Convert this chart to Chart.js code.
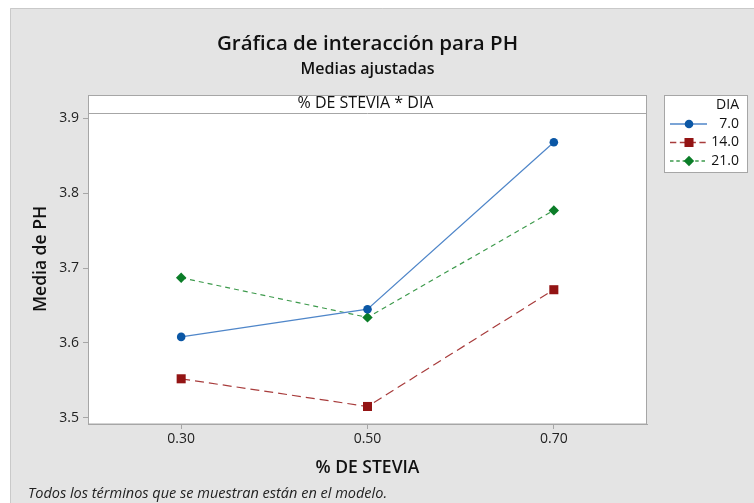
<!DOCTYPE html>
<html>
<head>
<meta charset="utf-8">
<script src="https://cdn.jsdelivr.net/npm/chart.js@4.4.1/dist/chart.umd.min.js"></script>
<style>
  html, body { margin: 0; padding: 0; background: #fff; }
  #wrap { width: 754px; height: 503px; }
</style>
</head>
<body>
<div id="wrap"><canvas id="c" width="754" height="503"></canvas></div>
<script>
// ─── Data ───
const stevia = [0.30, 0.50, 0.70];
const dias = ['7.0', '14.0', '21.0'];
const ph7 = [3.608, 3.645, 3.868];
const ph14 = [3.552, 3.515, 3.671];
const ph21 = [3.687, 3.634, 3.777];
const xTicks = [0.30, 0.50, 0.70];
const yTicks = [3.5, 3.6, 3.7, 3.8, 3.9];

const FONT = '"Open Sans", "Noto Sans", sans-serif';
const BG = '#e4e4e4';
const FRAME = '#a6a6a6';

const series = [
  { label: dias[0], data: ph7, line: '#4f86c9', mark: '#0b57a5', dash: [], style: 'circle', r: 4.3 },
  { label: dias[1], data: ph14, line: '#a83c3c', mark: '#931414', dash: [9, 5], style: 'rect', r: 6.4 },
  { label: dias[2], data: ph21, line: '#3d9a4c', mark: '#0b7d28', dash: [5, 4], style: 'rectRot', r: 5.2 },
];

function drawMark(ctx, s, x, y) {
  ctx.save();
  ctx.fillStyle = s.mark;
  ctx.beginPath();
  if (s.style === 'circle') ctx.arc(x, y, s.r, 0, Math.PI * 2);
  else if (s.style === 'rect') { const h = s.r * Math.SQRT1_2; ctx.rect(x - h, y - h, 2 * h, 2 * h); }
  else { ctx.moveTo(x, y - s.r); ctx.lineTo(x + s.r, y); ctx.lineTo(x, y + s.r); ctx.lineTo(x - s.r, y); ctx.closePath(); }
  ctx.fill();
  ctx.restore();
}

// background, frame, header strip, titles, legend, footnote
const decor = {
  id: 'decor',
  beforeDraw(chart) {
    const ctx = chart.ctx, a = chart.chartArea;
    ctx.save();
    ctx.fillStyle = '#fff';
    ctx.fillRect(0, 0, 754, 503);
    ctx.fillStyle = BG;
    ctx.fillRect(10, 8, 744, 495);
    ctx.strokeStyle = '#c9c9c9';
    ctx.lineWidth = 1;
    ctx.beginPath();
    ctx.moveTo(10.5, 503); ctx.lineTo(10.5, 8.5); ctx.lineTo(754, 8.5);
    ctx.stroke();
    // panel + strip
    ctx.fillStyle = '#fff';
    ctx.fillRect(a.left, 95, a.right - a.left, a.bottom - 95);
    ctx.strokeStyle = FRAME;
    ctx.beginPath();
    ctx.moveTo(a.left, a.top + 0.5); ctx.lineTo(a.right, a.top + 0.5);
    ctx.stroke();
    ctx.fillStyle = '#111';
    ctx.textAlign = 'center';
    ctx.textBaseline = 'middle';
    ctx.font = '16px ' + FONT;
    ctx.fillText('% DE STEVIA * DIA', (a.left + a.right) / 2 - 2, 103.5);
    // titles
    const cx = (a.left + a.right) / 2;
    ctx.font = '600 20.5px ' + FONT;
    ctx.fillText('Gráfica de interacción para PH', cx, 44);
    ctx.font = '600 16px ' + FONT;
    ctx.fillText('Medias ajustadas', cx, 69);
    // y title
    ctx.save();
    ctx.translate(41, 259);
    ctx.rotate(-Math.PI / 2);
    ctx.font = '600 17.5px ' + FONT;
    ctx.fillText('Media de PH', 0, 0);
    ctx.restore();
    // footnote
    ctx.textAlign = 'left';
    ctx.font = 'italic 14.5px ' + FONT;
    ctx.fillStyle = '#222';
    ctx.fillText('Todos los términos que se muestran están en el modelo.', 28, 494);
    // legend
    ctx.fillStyle = '#fff';
    ctx.fillRect(664, 95, 84, 78);
    ctx.strokeStyle = FRAME;
    ctx.strokeRect(664.5, 95.5, 83, 77);
    ctx.fillStyle = '#111';
    ctx.textAlign = 'right';
    ctx.font = '14px ' + FONT;
    ctx.fillText('DIA', 739, 105);
    series.forEach((s, i) => {
      const y = 124 + i * 18.5;
      ctx.save();
      ctx.strokeStyle = s.line;
      ctx.lineWidth = 1.3;
      ctx.setLineDash(s.dash.map(d => d * 0.7));
      ctx.beginPath();
      ctx.moveTo(670, y); ctx.lineTo(707, y);
      ctx.stroke();
      ctx.restore();
      drawMark(ctx, s, 689, y);
      ctx.fillText(s.label, 739, y);
    });
    ctx.restore();
  },
  afterDraw(chart) {
    const ctx = chart.ctx, a = chart.chartArea;
    ctx.save();
    ctx.strokeStyle = FRAME;
    ctx.lineWidth = 1;
    ctx.strokeRect(a.left + 0.5, 95.5, a.right - a.left - 1, a.bottom - 95.5);
    ctx.restore();
  }
};

new Chart(document.getElementById('c'), {
  type: 'line',
  data: {
    datasets: series.map(s => ({
      label: s.label,
      data: s.data.map((v, i) => ({ x: stevia[i], y: v })),
      borderColor: s.line,
      borderWidth: 1.2,
      borderDash: s.dash,
      pointStyle: s.style,
      pointRadius: s.r,
      pointBackgroundColor: s.mark,
      pointBorderColor: s.mark,
      pointBorderWidth: 0,
      tension: 0,
      fill: false,
    })),
  },
  options: {
    responsive: false,
    animation: false,
    devicePixelRatio: 1,
    layout: { padding: { left: 0, top: 113, right: 107, bottom: 0 } },
    plugins: { legend: { display: false }, title: { display: false }, tooltip: { enabled: false } },
    scales: {
      x: {
        type: 'linear', min: 0.2, max: 0.8,
        afterBuildTicks: sc => { sc.ticks = xTicks.map(v => ({ value: v })); },
        afterFit: sc => { sc.height = 79; },
        ticks: { callback: v => v.toFixed(2), color: '#222', font: { family: FONT, size: 14 }, padding: 2, maxRotation: 0 },
        grid: { drawOnChartArea: false, drawTicks: true, tickLength: 5, color: FRAME },
        border: { display: true, color: FRAME },
        title: { display: true, text: '% DE STEVIA', color: '#111', font: { family: FONT, size: 17.5, weight: '600' }, padding: { top: 0, bottom: 24 } },
      },
      y: {
        min: 3.4916, max: 3.9071,
        afterBuildTicks: sc => { sc.ticks = yTicks.map(v => ({ value: v })); },
        afterFit: sc => { sc.width = 88; },
        ticks: { callback: v => v.toFixed(1), color: '#222', font: { family: FONT, size: 14 }, padding: 4 },
        grid: { drawOnChartArea: false, drawTicks: true, tickLength: 5, color: FRAME },
        border: { display: true, color: FRAME },
      },
    },
  },
  plugins: [decor],
});
</script>
</body>
</html>
